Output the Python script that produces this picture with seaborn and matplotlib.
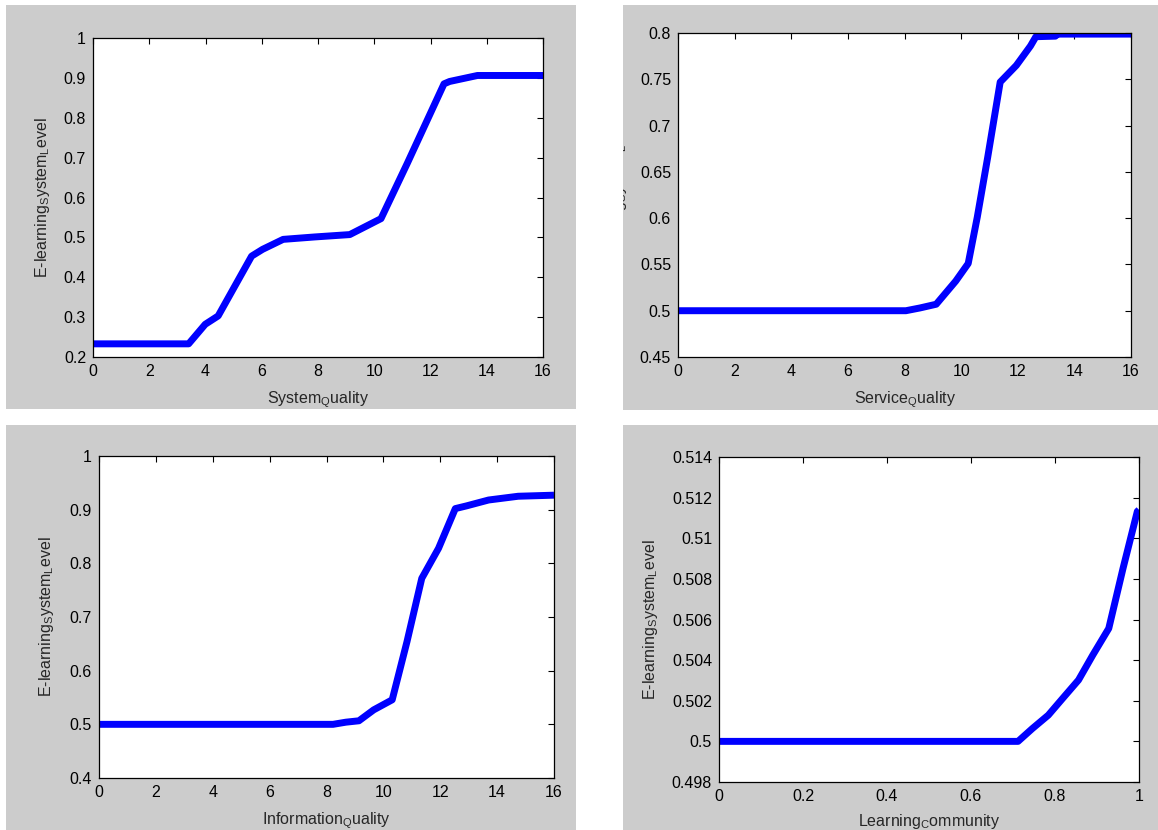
import numpy as np
import pandas as pd
import matplotlib
matplotlib.use("Agg")
import matplotlib.pyplot as plt
import seaborn as sns
from matplotlib.patches import Rectangle
from matplotlib.ticker import FuncFormatter, MultipleLocator
from matplotlib.transforms import Bbox, TransformedBbox

# ---------------- data ----------------
sys_x = [0, 3.40, 3.99, 4.45, 5.64, 6.03, 6.76, 7.87, 9.13, 10.24, 11.17, 12.48, 12.68, 13.67, 16]
sys_y = [0.233, 0.233, 0.282, 0.303, 0.453, 0.470, 0.495, 0.501, 0.507, 0.547, 0.685, 0.885, 0.891, 0.906, 0.906]

svc_x = [0, 8.05, 8.55, 9.12, 9.81, 10.25, 10.57, 10.94, 11.38, 11.95, 12.45, 12.64, 13.33, 13.40, 16]
svc_y = [0.5, 0.5, 0.503, 0.507, 0.532, 0.551, 0.601, 0.666, 0.747, 0.765, 0.786, 0.796, 0.7966, 0.7988, 0.7988]

inf_x = [0, 8.23, 8.68, 9.14, 9.66, 10.31, 10.83, 11.35, 11.94, 12.53, 12.92, 13.70, 14.74, 16]
inf_y = [0.5, 0.5, 0.504, 0.5066, 0.527, 0.5457, 0.654, 0.772, 0.828, 0.902, 0.907, 0.918, 0.925, 0.927]

com_x = [0, 0.712, 0.746, 0.784, 0.818, 0.856, 0.890, 0.928, 0.962, 0.996, 1.0]
com_y = [0.5, 0.5, 0.50063, 0.50129, 0.50211, 0.50302, 0.50425, 0.50556, 0.50852, 0.51132, 0.5114]

x_labels = ["System$_Q$uality", "Service$_Q$uality", "Information$_Q$uality", "Learning$_C$ommunity"]
y_label = "E-learning$_S$ystem$_L$evel"

# ---------------- style ----------------
sns.set_style("white")
plt.rcParams["font.family"] = ["Liberation Sans", "DejaVu Sans"]
plt.rcParams["mathtext.default"] = "regular"
plt.rcParams["font.size"] = 11.5

W, H = 1158, 830
fig = plt.figure(figsize=(W / 100, H / 100), dpi=100, facecolor="white")

GREY = "#cccccc"

def frac_rect(x0, y0, x1, y1):
    # pixel coords from top-left -> figure fraction
    return (x0 / W, 1 - y1 / H, (x1 - x0) / W, (y1 - y0) / H)

# grey panel backgrounds (x0, y0, x1, y1) in pixels
panels = [(6, 5, 576, 409), (623, 5, 1158, 410), (6, 425, 576, 830), (623, 425, 1158, 830)]
# axes boxes
boxes = [(93, 38, 543, 357), (678, 33, 1131, 357), (99, 456, 554, 778), (719, 457, 1139, 782)]

xs = [sys_x, svc_x, inf_x, com_x]
ys = [sys_y, svc_y, inf_y, com_y]
xlims = [(0, 16), (0, 16), (0, 16), (0, 1)]
ylims = [(0.2, 1.0), (0.45, 0.8), (0.4, 1.0), (0.498, 0.514)]
xsteps = [2, 2, 2, 0.2]
ysteps = [0.1, 0.05, 0.1, 0.002]
ylab_x = [-0.092, -0.109, -0.095, -0.14]
xlab_off = [32, 32, 32, 30]

fmt = FuncFormatter(lambda v, p: f"{round(v, 6):g}")

for i in range(4):
    pr = frac_rect(*panels[i])
    rect = Rectangle(pr[:2], pr[2], pr[3], transform=fig.transFigure,
                     facecolor=GREY, edgecolor="none", zorder=-10)
    fig.add_artist(rect)
    ax = fig.add_axes(frac_rect(*boxes[i]))
    ax.set_facecolor("white")
    df = pd.DataFrame({"x": xs[i], "y": ys[i]})
    sns.lineplot(data=df, x="x", y="y", ax=ax, color="#0000ff", linewidth=5,
                 sort=False, estimator=None)
    for ln in ax.lines:
        ln.set_solid_capstyle("butt")
        ln.set_solid_joinstyle("round")
    ax.set_xlim(*xlims[i])
    ax.set_ylim(*ylims[i])
    ax.xaxis.set_major_locator(MultipleLocator(xsteps[i]))
    ax.yaxis.set_major_locator(MultipleLocator(ysteps[i]))
    ax.xaxis.set_major_formatter(fmt)
    ax.yaxis.set_major_formatter(fmt)
    ax.tick_params(direction="in", top=True, right=True, length=4, width=0.8,
                   colors="black", labelsize=11.5)
    ax.tick_params(axis="x", pad=5)
    ax.tick_params(axis="y", pad=5)
    for s in ax.spines.values():
        s.set_visible(True)
        s.set_color("black")
        s.set_linewidth(0.9)
    ax.set_xlabel(x_labels[i], fontsize=11.5)
    ax.set_ylabel(y_label, fontsize=11.5)
    h = boxes[i][3] - boxes[i][1]
    ax.xaxis.set_label_coords(0.5, -xlab_off[i] / h)
    ax.yaxis.set_label_coords(ylab_x[i], 0.5)
    # clip labels to their grey panel
    clip = TransformedBbox(Bbox.from_bounds(*pr), fig.transFigure)
    for lab in (ax.xaxis.label, ax.yaxis.label):
        lab.set_clip_box(clip)
        lab.set_clip_on(True)

fig.savefig("out.png", dpi=100, facecolor="white")
